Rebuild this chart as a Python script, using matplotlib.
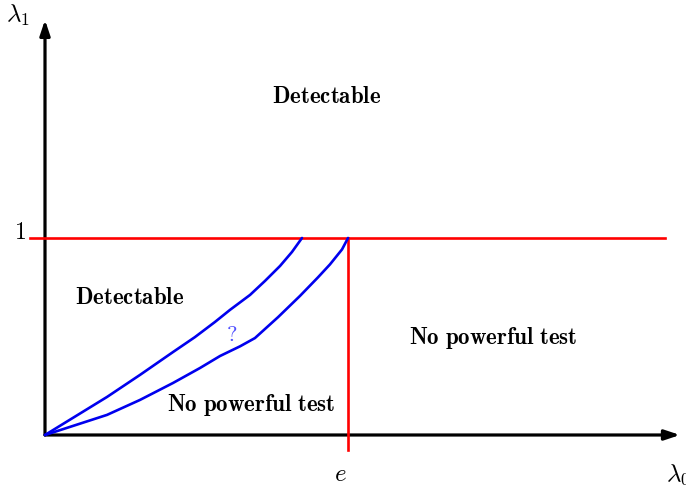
import matplotlib
matplotlib.use('Agg')
import matplotlib.pyplot as plt
import numpy as np

plt.rcParams['mathtext.fontset'] = 'cm'
plt.rcParams['font.family'] = ['DejaVu Serif']

# boundary curves (lambda_0, lambda_1)
upper_x = [0.0, 0.556, 0.852, 1.148, 1.345, 1.525, 1.659, 1.839, 1.973, 2.108, 2.215, 2.305]
upper_y = [0.0, 0.193, 0.305, 0.421, 0.497, 0.574, 0.635, 0.711, 0.782, 0.858, 0.929, 1.0]
lower_x = [0.0, 0.556, 0.852, 1.148, 1.390, 1.570, 1.749, 1.883, 2.090, 2.287, 2.448,
           2.556, 2.664, 2.718]
lower_y = [0.0, 0.102, 0.178, 0.264, 0.340, 0.401, 0.450, 0.492, 0.598, 0.706, 0.800,
           0.866, 0.942, 1.0]

e_val = np.e
one_val = 1.0

region_labels = ['Detectable', 'Detectable', 'No powerful test', 'No powerful test']
region_x = [2.529, 0.762, 4.018, 1.848]
region_y = [1.716, 0.695, 0.492, 0.152]

fig = plt.figure(figsize=(6.86, 4.86), dpi=100)
ax = fig.add_axes([0, 0, 1, 1])
ax.set_xlim(-0.4036, 5.749)
ax.set_ylim(-0.2589, 2.208)
ax.axis('off')

# axes arrows
arr = dict(arrowstyle='-|>,head_length=0.9,head_width=0.3', lw=2.3, color='black',
           shrinkA=0, shrinkB=0)
ax.annotate('', xy=(5.695, 0), xytext=(0, 0), arrowprops=arr)
ax.annotate('', xy=(0, 2.107), xytext=(0, 0), arrowprops=arr)

# red lines
ax.plot([-0.1345, 5.561], [one_val, one_val], color='red', lw=1.9, zorder=3)
ax.plot([e_val, e_val], [one_val, -0.076], color='red', lw=1.9, zorder=3)

# blue curves
ax.plot(upper_x, upper_y, color='#0000ee', lw=1.9, zorder=4,
        solid_capstyle='round', solid_joinstyle='round')
ax.plot(lower_x, lower_y, color='#0000ee', lw=1.9, zorder=4,
        solid_capstyle='round', solid_joinstyle='round')

for lab, x, y in zip(region_labels, region_x, region_y):
    ax.text(x, y, r'$\mathbf{' + lab.replace(' ', r'\ ') + '}$', fontsize=16.5,
            ha='center', va='center')

ax.text(1.677, 0.508, r'$\mathrm{?}$', fontsize=16, color='#5050ff', ha='center', va='center')
ax.text(-0.17, 1.03, r'$1$', fontsize=17, ha='right', va='center')
ax.text(e_val - 0.07, -0.203, r'$e$', fontsize=18, ha='center', va='center')
ax.text(-0.242, 2.132, r'$\lambda_1$', fontsize=18, ha='center', va='center')
# axis label sits at the right edge, partly cut as in the original
ax.text(5.57, -0.203, r'$\lambda_0$', fontsize=18, ha='left', va='center')

fig.savefig('out.png', dpi=100)
